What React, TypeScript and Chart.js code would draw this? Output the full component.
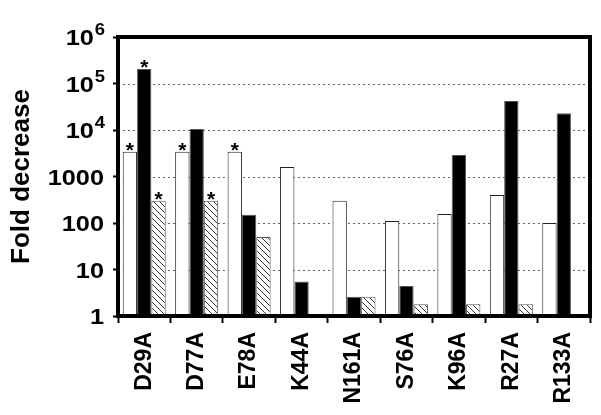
import React, { useEffect, useRef } from "react";
import { Chart, registerables } from "chart.js";

Chart.register(...registerables);

const categories = ["D29A", "D77A", "E78A", "K44A", "N161A", "S76A", "K96A", "R27A", "R133A"];
const whiteValues = [3400, 3400, 3400, 1600, 300, 110, 156, 400, 100];
const blackValues = [205000, 10500, 150, 5.5, 2.6, 4.4, 2900, 42000, 23000];
const hatchedValues = [300, 300, 50, null, 2.6, 1.8, 1.8, 1.8, null];
const whiteStars = [true, true, true, false, false, false, false, false, false];
const blackStars = [true, false, false, false, false, false, false, false, false];
const hatchedStars = [true, true, false, false, false, false, false, false, false];
const yTickValues = [1, 10, 100, 1000, 10000, 100000, 1000000];
const yTickBases = ["1", "10", "100", "1000", "10", "10", "10"];
const yTickExponents = ["", "", "", "", "4", "5", "6"];

const FONT = "'Liberation Sans', Arial, sans-serif";

function makeHatch(): CanvasPattern | string {
  const c = document.createElement("canvas");
  c.width = 6;
  c.height = 6;
  const g = c.getContext("2d");
  if (!g) return "#fff";
  g.fillStyle = "#fff";
  g.fillRect(0, 0, 6, 6);
  g.strokeStyle = "#333";
  g.lineWidth = 1;
  g.beginPath();
  g.moveTo(-1, -1);
  g.lineTo(7, 7);
  g.moveTo(-1, 5);
  g.lineTo(1, 7);
  g.moveTo(5, -1);
  g.lineTo(7, 1);
  g.stroke();
  const p = g.createPattern(c, "repeat");
  return p || "#fff";
}

export default function App() {
  const ref = useRef<HTMLCanvasElement>(null);
  useEffect(() => {
    if (!ref.current) return;
    const starSets = [whiteStars, blackStars, hatchedStars];
    const boxPlugin = {
      id: "boxAndStars",
      beforeDatasetsDraw(chart: any) {
        const ctx = chart.ctx;
        const a = chart.chartArea;
        const ys = chart.scales.y;
        ctx.save();
        ctx.strokeStyle = "#666";
        ctx.lineWidth = 1;
        ctx.setLineDash([2, 3]);
        yTickValues.forEach((v) => {
          const y = Math.round(ys.getPixelForValue(v)) + 0.5;
          ctx.beginPath();
          ctx.moveTo(a.left, y);
          ctx.lineTo(a.right, y);
          ctx.stroke();
        });
        ctx.restore();
      },
      afterDatasetsDraw(chart: any) {
        const ctx = chart.ctx;
        const a = chart.chartArea;
        const ys = chart.scales.y;
        ctx.save();
        ctx.strokeStyle = "#000";
        ctx.lineWidth = 4;
        ctx.strokeRect(a.left, a.top, a.right - a.left, a.bottom - a.top);
        ctx.fillStyle = "#000";
        ctx.font = `bold 21px ${FONT}`;
        ctx.textAlign = "center";
        ctx.textBaseline = "alphabetic";
        starSets.forEach((stars, i) => {
          const meta = chart.getDatasetMeta(i);
          stars.forEach((s, j) => {
            if (!s) return;
            const el = meta.data[j];
            if (!el) return;
            ctx.fillText("*", el.x, el.y + 5);
          });
        });
        // y tick labels with superscript exponents (slightly widened glyphs)
        const sx = 1.15;
        const right = a.left - 14;
        yTickValues.forEach((v, i) => {
          const y = ys.getPixelForValue(v);
          const base = yTickBases[i];
          const exp = yTickExponents[i];
          ctx.textAlign = "left";
          ctx.textBaseline = "alphabetic";
          ctx.font = `bold 16px ${FONT}`;
          const ew = exp ? ctx.measureText(exp).width * sx : 0;
          ctx.font = `bold 22px ${FONT}`;
          const bw = ctx.measureText(base).width * sx;
          const x0 = right - ew - bw;
          ctx.save();
          ctx.translate(x0, y + 8);
          ctx.scale(sx, 1);
          ctx.fillText(base, 0, 0);
          ctx.restore();
          if (exp) {
            ctx.save();
            ctx.font = `bold 16px ${FONT}`;
            ctx.translate(x0 + bw + 1, y - 2);
            ctx.scale(sx, 1);
            ctx.fillText(exp, 0, 0);
            ctx.restore();
          }
        });
        ctx.restore();
      },
    };
    const chart = new Chart(ref.current, {
      type: "bar",
      data: {
        labels: categories,
        datasets: [
          {
            data: whiteValues,
            backgroundColor: "#fff",
            borderColor: "#222",
            borderWidth: 1,
          },
          {
            data: blackValues,
            backgroundColor: "#000",
            borderColor: "#555",
            borderWidth: 1,
          },
          {
            data: hatchedValues as any,
            backgroundColor: makeHatch() as any,
            borderColor: "#555",
            borderWidth: 1,
          },
        ],
      },
      options: {
        responsive: false,
        animation: false,
        layout: { padding: { top: 37, right: 11, left: 0, bottom: 0 } },
        plugins: {
          legend: { display: false },
          tooltip: { enabled: false },
        },
        datasets: {
          bar: { categoryPercentage: 0.82, barPercentage: 1 },
        },
        scales: {
          x: {
            offset: true,
            grid: {
              offset: true,
              drawOnChartArea: false,
              drawTicks: true,
              tickLength: 7,
              tickColor: "#000",
              tickWidth: 2,
            },
            border: { display: false },
            ticks: {
              color: "#000",
              font: { family: FONT, size: 23, weight: "bold" },
              maxRotation: 90,
              minRotation: 90,
              padding: 9,
              autoSkip: false,
            },
            afterFit(scale: any) {
              scale.height = 99;
            },
          },
          y: {
            type: "logarithmic",
            min: 1,
            max: 1000000,
            afterBuildTicks(scale: any) {
              scale.ticks = yTickValues.map((v) => ({ value: v }));
            },
            grid: {
              drawOnChartArea: false,
              drawTicks: true,
              tickLength: 5,
              tickColor: "#000",
              tickWidth: 2,
            },
            border: { display: false },
            ticks: {
              display: false,
            },
            title: {
              display: true,
              text: "Fold decrease",
              color: "#000",
              font: { family: FONT, size: 26, weight: "bold" },
              padding: { top: 6, bottom: 0 },
            },
            afterFit(scale: any) {
              scale.width = 118;
            },
          },
        },
      },
      plugins: [boxPlugin],
    });
    return () => chart.destroy();
  }, []);
  return (
    <div style={{ position: "absolute", left: 0, top: 0, width: 601, height: 415, background: "#fff" }}>
      <canvas ref={ref} width={601} height={415} style={{ display: "block" }} />
    </div>
  );
}
